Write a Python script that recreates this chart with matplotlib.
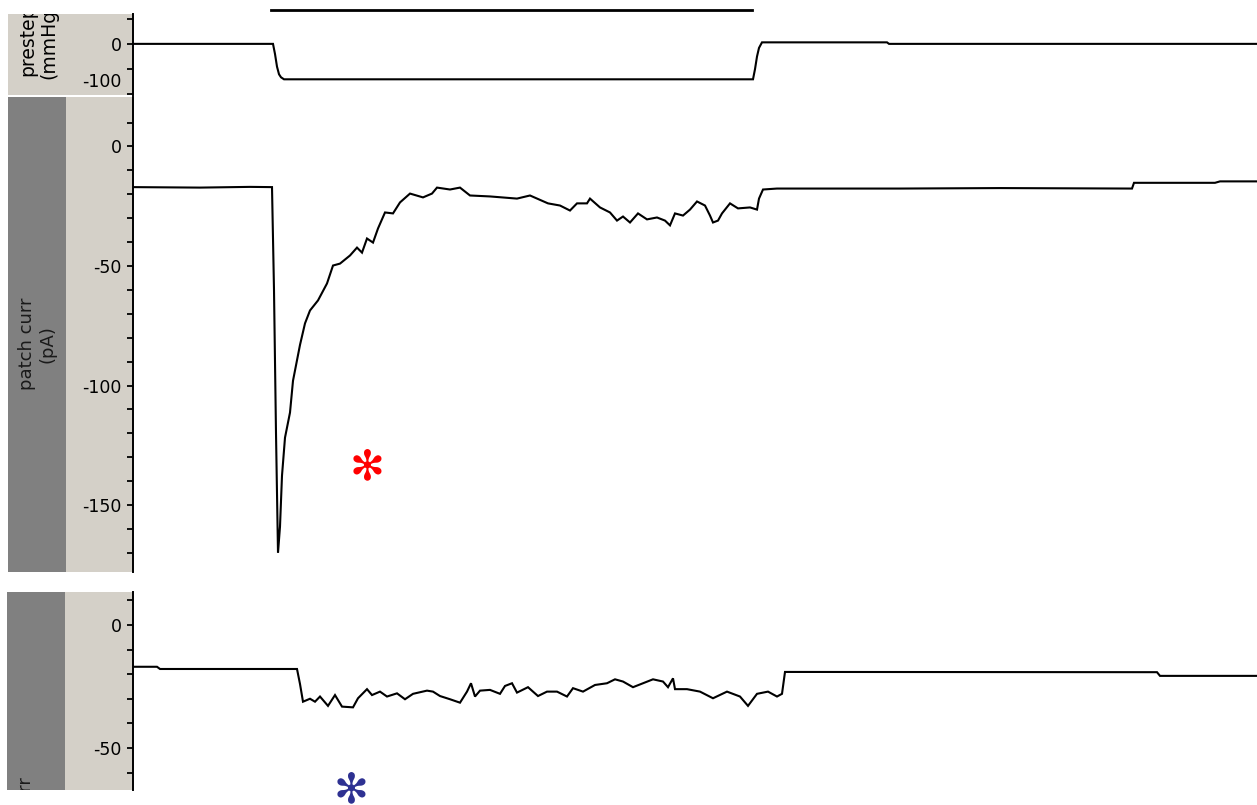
import matplotlib.pyplot as plt
from matplotlib.transforms import ScaledTranslation, blended_transform_factory

plt.rcParams['font.family'] = ['DejaVu Sans']
plt.rcParams['axes.unicode_minus'] = False

# time (s) and values
press_t = [0.00, 1.40, 1.42, 1.44, 1.46, 1.48, 1.51, 6.20, 6.22, 6.24, 6.26, 6.29, 7.54, 7.56, 11.24]
press_v = [0, 0, -20, -45, -60, -66, -70, -70, -50, -25, -8, 3, 3, 0, 0]

patch_t = [0.00, 0.67, 1.17, 1.39, 1.41, 1.43, 1.45, 1.47, 1.49, 1.52, 1.57, 1.60, 1.67, 1.72,
           1.77, 1.85, 1.94, 2.00, 2.07, 2.17, 2.24, 2.29, 2.34, 2.40, 2.45, 2.52, 2.60, 2.67,
           2.77, 2.90, 2.99, 3.04, 3.17, 3.27, 3.37, 3.57, 3.84, 3.97, 4.15, 4.27, 4.37, 4.44,
           4.54, 4.57, 4.67, 4.77, 4.84, 4.90, 4.97, 5.05, 5.14, 5.24, 5.32, 5.37, 5.42, 5.50,
           5.57, 5.64, 5.72, 5.77, 5.80, 5.85, 5.89, 5.97, 6.05, 6.17, 6.24, 6.26, 6.30, 6.44,
           7.67, 8.67, 9.99, 10.01, 10.82, 10.87, 11.24]
patch_v = [-17.0, -17.2, -16.9, -17.0, -60, -120, -170, -159, -137.7, -121.8, -111.3, -98, -83, -74,
           -68.6, -64.4, -57.3, -49.8, -49, -45.6, -42.3, -44.4, -38.5, -40.2, -34.3, -27.6, -28, -23.4,
           -19.7, -21.3, -19.7, -17.2, -18, -17.2, -20.5, -20.9, -21.8, -20.5, -23.8, -24.7, -26.8, -23.8,
           -23.8, -21.8, -25.5, -27.6, -31, -29.3, -31.8, -28, -30.5, -29.7, -31, -33, -28, -28.9,
           -26.4, -23, -24.7, -28.9, -31.8, -31, -28, -23.8, -25.9, -25.5, -26.4, -21.8, -18, -17.6,
           -17.6, -17.4, -17.6, -15.2, -15.2, -14.6, -14.6]

cell_t = [0.00, 0.24, 0.27, 1.64, 1.67, 1.70, 1.77, 1.82, 1.87, 1.95, 2.02, 2.09, 2.20, 2.25, 2.34,
          2.39, 2.47, 2.54, 2.64, 2.72, 2.80, 2.94, 3.00, 3.07, 3.17, 3.27, 3.34, 3.38, 3.42, 3.47,
          3.57, 3.67, 3.72, 3.79, 3.84, 3.95, 4.05, 4.14, 4.24, 4.34, 4.40, 4.50, 4.62, 4.74, 4.82,
          4.90, 5.00, 5.10, 5.20, 5.30, 5.35, 5.40, 5.42, 5.54, 5.67, 5.80, 5.94, 6.07, 6.15, 6.24,
          6.35, 6.44, 6.49, 6.52, 10.24, 10.27, 11.24]
cell_v = [-17, -17, -17.9, -17.9, -24, -31.2, -30, -31.2, -29.1, -32.9, -28.5, -33.2, -33.5, -29.8, -26.1,
          -28.5, -27.1, -29.1, -27.8, -30.2, -28, -26.7, -27.1, -28.9, -30.2, -31.6, -27.1, -23.7, -29.1, -26.7,
          -26.4, -28, -24.8, -23.7, -27.5, -25.3, -28.9, -27.1, -27.1, -29.1, -25.7, -27.1, -24.4, -23.7, -22.1,
          -23, -25.3, -23.7, -22.1, -23, -25.3, -21.7, -26.1, -26.1, -27.1, -29.8, -27.1, -29.1, -32.9, -28,
          -27.1, -29.1, -28, -19.1, -19.2, -20.7, -20.7]

stim_on, stim_off = 1.38, 6.19

W, H = 1257, 805
LIGHT = '#d4d0c8'
DARK = '#808080'


def rect(x0, y0, x1, y1):
    return [x0 / W, 1 - y1 / H, (x1 - x0) / W, (y1 - y0) / H]


def side_box(x0, y0, x1, y1, color):
    a = fig.add_axes(rect(x0, y0, x1, y1))
    a.set_facecolor(color)
    a.set_xticks([])
    a.set_yticks([])
    for s in a.spines.values():
        s.set_visible(False)
    a.set_xlim(0, 1)
    a.set_ylim(0, 1)
    return a


def trace_axes(y0, y1, t, v, ylim, major, minor):
    ax = fig.add_axes(rect(133, y0, 1257, y1))
    ax.plot(t, v, color='black', lw=1.5, solid_joinstyle='miter')
    ax.set_xlim(0, 11.24)
    ax.set_ylim(ylim)
    ax.set_yticks(major)
    ax.set_yticks(minor, minor=True)
    ax.xaxis.set_visible(False)
    for s in ['top', 'right', 'bottom']:
        ax.spines[s].set_visible(False)
    ax.spines['left'].set_linewidth(1.4)
    ax.tick_params(axis='y', which='both', direction='out', length=4, width=1.3,
                   pad=4, labelsize=12.5, colors='black')
    return ax


fig = plt.figure(figsize=(12.57, 8.05), dpi=100)

# side label columns
top_lbl = side_box(8, 14, 133, 95, LIGHT)
top_lbl.text(0.24, 0.67, 'prestep\n(mmHg)', rotation=90, ha='center', va='center',
             fontsize=13.5, linespacing=1.15, clip_on=True)

side_box(8, 97, 133, 571.5, LIGHT)
mid_dark = side_box(8, 97, 66, 571.5, DARK)
mid_dark.text(0.5, 0.48, 'patch curr\n(pA)', rotation=90, ha='center', va='center',
              fontsize=13, linespacing=1.15, color='#1a1a1a', clip_on=True)

side_box(7, 592, 133, 790, LIGHT)
bot_dark = side_box(7, 592, 65, 790, DARK)
bot_dark.text(0.5, -0.12, 'cell curr\n(pA)', rotation=90, ha='center', va='center',
              fontsize=13, linespacing=1.15, color='#1a1a1a', clip_on=True)

# traces
ax_p = trace_axes(14, 95, press_t, press_v, (-101, 59), [0, -100], [50, -50])
ax_m = trace_axes(97, 571.5, patch_t, patch_v, (-177.8, 20.7),
                  [0, -50, -100, -150], [10, -10, -20, -30, -40, -60, -70, -80, -90, -110,
                                         -120, -130, -140, -160, -170])
ax_b = trace_axes(592, 790, cell_t, cell_v, (-67.1, 13.4), [0, -50],
                  [10, -10, -20, -30, -40, -60])

# bottom label of pressure panel sits higher to stay inside the panel
lbl = ax_p.get_yticklabels()[1]
lbl.set_transform(lbl.get_transform() + ScaledTranslation(0, 0.14, fig.dpi_scale_trans))

# stimulus bar above the pressure trace
tr = blended_transform_factory(ax_p.transData, ax_p.transAxes)
ax_p.plot([stim_on, stim_off], [1.045, 1.045], color='black', lw=2.0, transform=tr, clip_on=False)

# asterisks
fig.text(367 / W, 1 - 467 / H, '\u273b', color='red', fontsize=30, ha='center', va='center')
fig.text(351 / W, 1 - 790 / H, '\u273b', color='#2e3192', fontsize=30, ha='center', va='center')

fig.savefig('out.png', dpi=100, facecolor='white')
